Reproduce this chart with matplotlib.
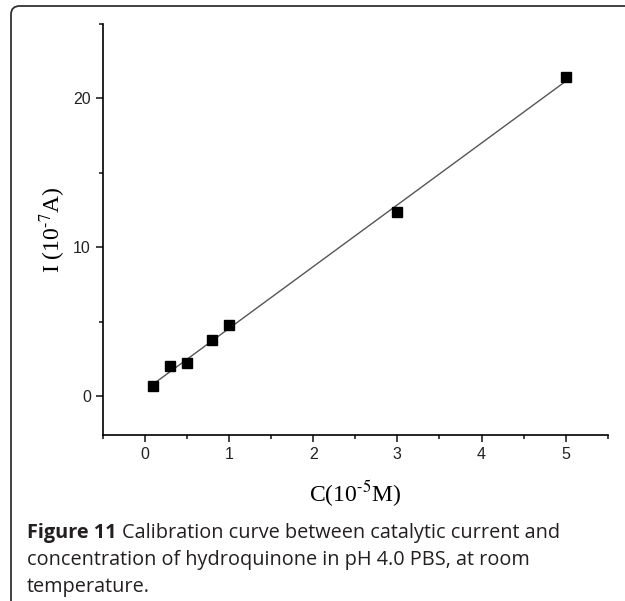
import numpy as np
import matplotlib
matplotlib.use("Agg")
from matplotlib import pyplot as plt
from matplotlib.patches import FancyBboxPatch
from matplotlib.ticker import MultipleLocator

# data
conc = [0.1, 0.3, 0.5, 0.8, 1.0, 3.0, 5.0]      # C (10^-5 M)
current = [0.72, 2.0, 2.2, 3.8, 4.76, 12.35, 21.4]  # I (10^-7 A)
x_ticks = [0, 1, 2, 3, 4, 5]
y_ticks = [0, 10, 20]

caption_bold = "Figure 11"
caption_lines = ["Calibration curve between catalytic current and",
                 "concentration of hydroquinone in pH 4.0 PBS, at room",
                 "temperature."]

plt.rcParams['mathtext.fontset'] = 'stix'
W, H = 625, 601
fig = plt.figure(figsize=(W / 100, H / 100), dpi=100)

# rounded frame around the figure
frame = FancyBboxPatch((11 / W, -0.1), 1.1, 1 - 6 / H + 0.1,
                       boxstyle="round,pad=0,rounding_size=0.014",
                       transform=fig.transFigure, fill=False,
                       edgecolor='#333333', linewidth=1.3)
fig.patches.append(frame)

ax = fig.add_axes([102.8 / W, 1 - 435 / H, (607.8 - 102.8) / W, (435 - 23.8) / H])

a, b = np.polyfit(conc, current, 1)
xs = np.array([conc[0], conc[-1]])
ax.plot(xs, a * xs + b, color='#555555', linewidth=1.0)
ax.plot(conc, current, 's', color='black', markersize=6.5)

ax.set_xlim(-0.5, 5.5)
ax.set_ylim(-2.6, 25)
ax.set_xticks(x_ticks)
ax.set_yticks(y_ticks)
ax.xaxis.set_minor_locator(MultipleLocator(0.5))
ax.yaxis.set_minor_locator(MultipleLocator(5))
ax.spines['top'].set_visible(False)
ax.spines['right'].set_visible(False)
for s in ['left', 'bottom']:
    ax.spines[s].set_linewidth(1.2)
ax.tick_params(which='both', direction='out', width=1.2, colors='#222222')
ax.tick_params(which='major', length=5, labelsize=11.5)
ax.tick_params(which='minor', length=3)
for lab in ax.get_xticklabels() + ax.get_yticklabels():
    lab.set_family('Liberation Sans')

ax.set_xlabel(r"C(10$^{\text{-}5}$M)", fontsize=17, family='Liberation Serif', labelpad=12)
ax.set_ylabel(r"I (10$^{\text{-}7}$A)", fontsize=17, family='Liberation Serif', labelpad=4)

# caption
cap_kw = dict(family='Open Sans', fontsize=14.3, color='#231f20', va='baseline')
x0 = 27 / W
t = fig.text(x0, 1 - 538 / H, caption_bold, fontweight='bold', **cap_kw)
fig.canvas.draw()
bb = t.get_window_extent()
fig.text((bb.x1 + 6) / W, 1 - 538 / H, caption_lines[0], **cap_kw)
fig.text(x0, 1 - 565 / H, caption_lines[1], **cap_kw)
fig.text(x0, 1 - 592 / H, caption_lines[2], **cap_kw)

fig.savefig("out.png", dpi=100)
